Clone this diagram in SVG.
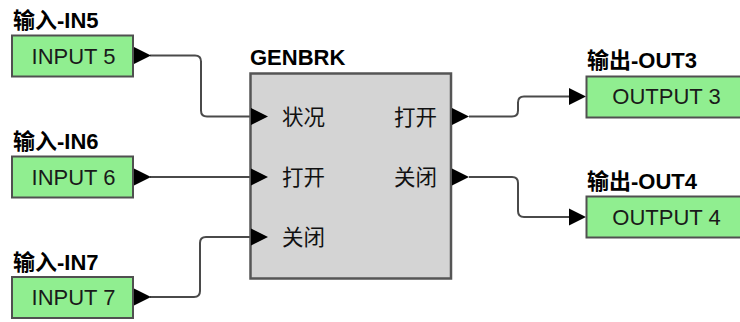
<svg xmlns="http://www.w3.org/2000/svg" width="740" height="322" viewBox="0 0 740 322">
<style>
  .io{fill:#90ee90;stroke:#505050;stroke-width:2}
  .blk{fill:#d4d4d4;stroke:#555555;stroke-width:2.5}
  .lbl{font-family:"Liberation Sans","Noto Sans CJK SC",sans-serif;font-size:22px;font-weight:bold;fill:#000}
  .txt{font-family:"Liberation Sans","Noto Sans CJK SC",sans-serif;font-size:22px;fill:#1a1a1a;text-anchor:middle}
  .port{font-family:"Liberation Sans","Noto Sans CJK SC",sans-serif;font-size:21.5px;fill:#111}
  .wire{fill:none;stroke:#4a4a4a;stroke-width:2}
  .tri{fill:#000}
</style>
<defs>
  <path id="tri" d="M0,-8.5 L17,0 L0,8.5 Z"/>
</defs>
<rect width="740" height="322" fill="#ffffff"/>

<g id="connectors">
  <path class="wire" d="M150,55.5 H195 Q201,55.5 201,61.5 V110.5 Q201,116.5 207,116.5 H252"/>
  <path class="wire" d="M150,177 H252"/>
  <path class="wire" d="M150,297 H194 Q200,297 200,291 V243 Q200,237 206,237 H252"/>
  <path class="wire" d="M469,116.5 H512 Q518,116.5 518,110.5 V102.5 Q518,96.5 524,96.5 H570"/>
  <path class="wire" d="M469,177 H512 Q518,177 518,183 V211 Q518,217 524,217 H570"/>
  <use href="#tri" class="tri" x="569" y="96.5"/>
  <use href="#tri" class="tri" x="569" y="217"/>
</g>

<g id="in5">
  <text class="lbl" x="13" y="28">输入-IN5</text>
  <rect class="io" x="12" y="35.5" width="121" height="41"/>
  <text class="txt" x="73.5" y="63.5">INPUT 5</text>
  <use href="#tri" class="tri" x="134" y="55.5"/>
</g>

<g id="in6">
  <text class="lbl" x="13" y="149">输入-IN6</text>
  <rect class="io" x="12" y="156.5" width="121" height="41"/>
  <text class="txt" x="73.5" y="184.5">INPUT 6</text>
  <use href="#tri" class="tri" x="134" y="177"/>
</g>

<g id="in7">
  <text class="lbl" x="13" y="270">输入-IN7</text>
  <rect class="io" x="12" y="277" width="121" height="41"/>
  <text class="txt" x="73.5" y="305">INPUT 7</text>
  <use href="#tri" class="tri" x="134" y="297"/>
</g>

<g id="genbrk">
  <text class="lbl" x="250" y="65">GENBRK</text>
  <rect class="blk" x="250.5" y="73.5" width="200.5" height="205"/>
  <use href="#tri" class="tri" x="251" y="116.5"/>
  <use href="#tri" class="tri" x="251" y="177"/>
  <use href="#tri" class="tri" x="251" y="237"/>
  <use href="#tri" class="tri" x="452" y="116.5"/>
  <use href="#tri" class="tri" x="452" y="177"/>
  <text class="port" x="282" y="124.5">状况</text>
  <text class="port" x="282" y="185">打开</text>
  <text class="port" x="282" y="245">关闭</text>
  <text class="port" x="437" y="124.5" text-anchor="end">打开</text>
  <text class="port" x="437" y="185" text-anchor="end">关闭</text>
</g>

<g id="out3">
  <text class="lbl" x="587" y="68">输出-OUT3</text>
  <rect class="io" x="586.5" y="76.5" width="170" height="41"/>
  <text class="txt" x="666.5" y="104">OUTPUT 3</text>
</g>

<g id="out4">
  <text class="lbl" x="587" y="189">输出-OUT4</text>
  <rect class="io" x="586.5" y="196.5" width="170" height="41"/>
  <text class="txt" x="666.5" y="224.5">OUTPUT 4</text>
</g>
</svg>
